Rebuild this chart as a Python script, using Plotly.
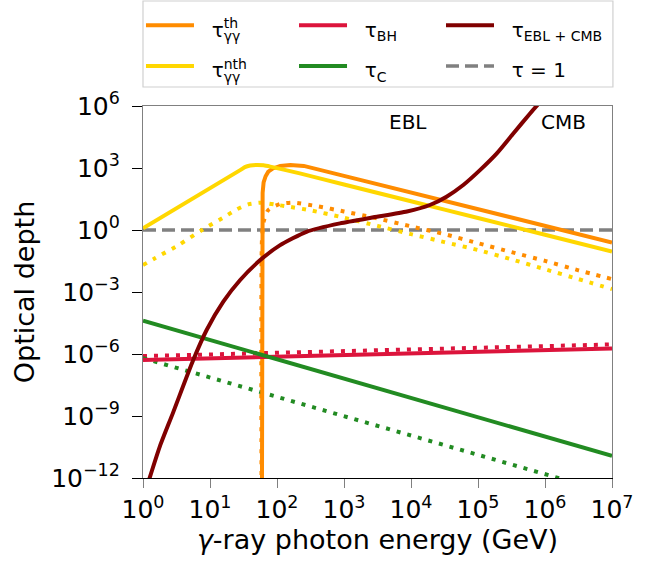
import plotly.graph_objects as go

# ---------------- data ----------------
# tau_gg thermal (solid) - energies in GeV
E_th = [5.95e1, 6.03e1, 6.10e1, 6.31e1, 6.76e1, 7.41e1, 8.71e1, 1.12e2, 1.58e2, 2.51e2,
        1.0e3, 1.0e4, 1.0e5, 1.0e6, 1.0e7]
tau_th = [1e-14, 1.0e1, 6.3e1, 2.0e2, 4.0e2, 6.6e2, 9.5e2, 1.26e3, 1.41e3, 1.26e3,
          4.2e2, 6.6e1, 1.05e1, 1.66, 2.5e-1]
# tau_gg thermal (dotted)
E_th2 = [5.89e1, 5.96e1, 6.31e1, 7.41e1, 1.10e2, 1.74e2, 3.98e2, 1.0e3, 2.75e3, 1.0e4,
         3.16e4, 1.0e5, 3.16e5, 1.0e6, 3.16e6, 1.0e7]
tau_th2 = [1e-14, 3.2e-1, 2.5, 9.3, 1.8e1, 2.1e1, 1.41e1, 7.9, 4.0, 1.5, 6.3e-1,
           2.3e-1, 8.5e-2, 3.2e-2, 1.12e-2, 4.2e-3]
# tau_gg non-thermal (solid)
E_nth = [1.0, 2.82e1, 3.31e1, 3.98e1, 5.01e1, 6.31e1, 7.94e1, 2.19e2, 1.0e3, 1.0e4,
         1.0e5, 1.0e6, 1.0e7]
tau_nth = [1.2, 7.9e2, 1.10e3, 1.32e3, 1.41e3, 1.35e3, 1.17e3, 5.5e2, 1.58e2, 2.45e1,
           3.8, 5.9e-1, 9.1e-2]
# tau_gg non-thermal (dotted)
E_nth2 = [1.0, 1.51, 3.39, 7.59, 1.66e1, 2.51e1, 3.72e1, 5.89e1, 9.33e1, 1.48e2,
          3.16e2, 8.71e2, 3.16e3, 1.0e4, 3.16e4, 1.0e5, 3.16e5, 1.0e6, 3.16e6, 1.0e7]
tau_nth2 = [2.0e-2, 4.3e-2, 1.86e-1, 1.0, 4.4, 1.0e1, 1.74e1, 2.1e1, 1.7e1, 1.35e1,
            8.9, 4.4, 1.58, 6.3e-1, 2.6e-1, 1.07e-1, 3.8e-2, 1.26e-2, 4.2e-3, 1.38e-3]
# Bethe-Heitler
E_bh = [1.0, 1.0e7]
tau_bh = [5.1e-7, 1.86e-6]
tau_bh2 = [7.9e-7, 2.9e-6]
# Compton
E_c = [1.0, 1.0e7]
tau_c = [4.1e-5, 1.17e-11]
tau_c2 = [6.3e-7, 1.78e-13]
# EBL + CMB absorption
E_ebl = [1.20, 1.78, 2.82, 5.62, 8.91, 1.58e1, 2.82e1, 5.62e1, 1.10e2, 2.75e2, 8.71e2,
         2.75e3, 8.71e3, 1.91e4, 3.39e4, 6.03e4, 1.07e5, 1.91e5, 3.39e5, 6.03e5, 8.51e5]
tau_ebl = [6.3e-13, 3.3e-11, 1.5e-9, 5.1e-7, 1.45e-5, 3.4e-4, 3.8e-3, 3.5e-2, 1.8e-1,
           8.2e-1, 2.1, 4.1, 7.8, 1.62e1, 4.1e1, 1.51e2, 7.9e2, 5.1e3, 4.8e4, 4.5e5, 1.6e6]
# tau = 1 reference
E_one = [1.0, 1.0e7]
tau_one = [1.0, 1.0]

xtick_vals = [1e0, 1e1, 1e2, 1e3, 1e4, 1e5, 1e6, 1e7]
xtick_text = ["10<sup>0</sup>", "10<sup>1</sup>", "10<sup>2</sup>", "10<sup>3</sup>",
              "10<sup>4</sup>", "10<sup>5</sup>", "10<sup>6</sup>", "10<sup>7</sup>"]
ytick_vals = [1e-12, 1e-9, 1e-6, 1e-3, 1e0, 1e3, 1e6]
ytick_text = ["10<sup>\u221212</sup>", "10<sup>\u22129</sup>", "10<sup>\u22126</sup>",
              "10<sup>\u22123</sup>", "10<sup>0</sup>", "10<sup>3</sup>", "10<sup>6</sup>"]

ORANGE = "#ff8c00"
GOLD = "#ffd700"
CRIMSON = "#dc143c"
GREEN = "#228b22"
MAROON = "#800000"
GRAY = "#808080"

FONT = "DejaVu Sans"
LW = 4
DOT = "4px,7px"


def lab(s):
    return "<span style='font-size:20px'>&nbsp;&nbsp;" + s + "</span>"


lab_th = lab("\u03c4<sub>\u03b3<span style='letter-spacing:-16.6px'>\u03b3</span></sub><sup>th</sup>")
lab_nth = lab("\u03c4<sub>\u03b3<span style='letter-spacing:-16.6px'>\u03b3</span></sub><sup>nth</sup>")
lab_bh = lab("\u03c4<sub>BH</sub>")
lab_c = lab("\u03c4<sub>C</sub>")
lab_ebl = lab("\u03c4<sub>EBL + CMB</sub>")
lab_one = lab("\u03c4 = 1")

fig = go.Figure()


def add(x, y, color, name=None, dash=None, width=LW, rank=1000, shape="linear", legend="legend"):
    fig.add_trace(go.Scatter(
        x=x, y=y, mode="lines", name=name if name else "",
        showlegend=name is not None, legendrank=rank, legend=legend,
        line=dict(color=color, width=width, dash=dash, shape=shape, smoothing=0.6),
        hoverinfo="skip"))


add(E_one, tau_one, GRAY, lab_one, dash="13px,6px", width=3.5, rank=2, legend="legend3")
add(E_th2, tau_th2, ORANGE, dash=DOT, shape="spline")
add(E_nth2, tau_nth2, GOLD, dash=DOT, shape="spline")
add(E_bh, tau_bh2, CRIMSON, dash=DOT)
add(E_c, tau_c2, GREEN, dash=DOT)
add(E_th, tau_th, ORANGE, lab_th, rank=1, legend="legend")
add(E_nth, tau_nth, GOLD, lab_nth, rank=2, shape="spline", legend="legend")
add(E_bh, tau_bh, CRIMSON, lab_bh, rank=1, legend="legend2")
add(E_c, tau_c, GREEN, lab_c, rank=2, legend="legend2")
add(E_ebl, tau_ebl, MAROON, lab_ebl, rank=1, shape="spline", legend="legend3")

# invisible trace carrying the top frame line
fig.add_trace(go.Scatter(x=[1, 1e7], y=[1, 1], xaxis="x2", mode="lines",
                         line=dict(width=0), showlegend=False, hoverinfo="skip"))

fig.add_annotation(x=3.955, y=5.22, xref="x", yref="y", text="EBL", showarrow=False,
                   font=dict(size=20, color="black", family=FONT))
fig.add_annotation(x=6.28, y=5.22, xref="x", yref="y", text="CMB", showarrow=False,
                   font=dict(size=20, color="black", family=FONT))

# frame around the legend
fig.add_shape(type="rect", xref="paper", yref="paper", x0=0.0, x1=1.002,
              y0=1.0511, y1=1.2823, line=dict(color="#d0d0d0", width=1.2),
              fillcolor="white", layer="below")

leg_common = dict(orientation="v", xanchor="left", y=1.285, yanchor="top",
                  borderwidth=0, bgcolor="rgba(0,0,0,0)",
                  font=dict(size=29, family=FONT), itemwidth=48,
                  traceorder="normal")

fig.update_layout(
    width=656, height=563,
    margin=dict(l=143, r=44, t=106, b=85, autoexpand=False),
    paper_bgcolor="white", plot_bgcolor="white",
    font=dict(family=FONT, color="black"),
    showlegend=True,
    legend=dict(x=-0.0043, **leg_common),
    legend2=dict(x=0.322, **leg_common),
    legend3=dict(x=0.6354, **leg_common),
    xaxis=dict(type="log", range=[0, 7], tickvals=xtick_vals, ticktext=xtick_text,
               showgrid=False, zeroline=False, showline=True, linecolor="black",
               linewidth=1.2, ticks="outside", ticklen=9, tickwidth=1.2, tickcolor=GRAY,
               tickfont=dict(size=25, family=FONT), automargin=False,
               title=dict(text="<i>\u03b3</i>-ray photon energy (GeV)",
                          font=dict(size=27, family=FONT), standoff=6)),
    xaxis2=dict(type="log", range=[0, 7], overlaying="x", side="top", showgrid=False,
                zeroline=False, showline=True, linecolor=GRAY, linewidth=1.2,
                showticklabels=False, ticks="", automargin=False),
    yaxis=dict(type="log", range=[-12, 6], tickvals=ytick_vals, ticktext=ytick_text,
               showgrid=False, zeroline=False, showline=True, linecolor=GRAY, mirror=True,
               linewidth=1.2, ticks="outside", ticklen=10, tickwidth=1.2, tickcolor="black",
               tickfont=dict(size=25, family=FONT), automargin=False, ticklabelstandoff=7,
               title=dict(text="Optical depth", font=dict(size=27, family=FONT), standoff=8)),
)

fig.write_html("out.html", config={"displayModeBar": False},
               post_script="document.body.style.margin='0px';")
